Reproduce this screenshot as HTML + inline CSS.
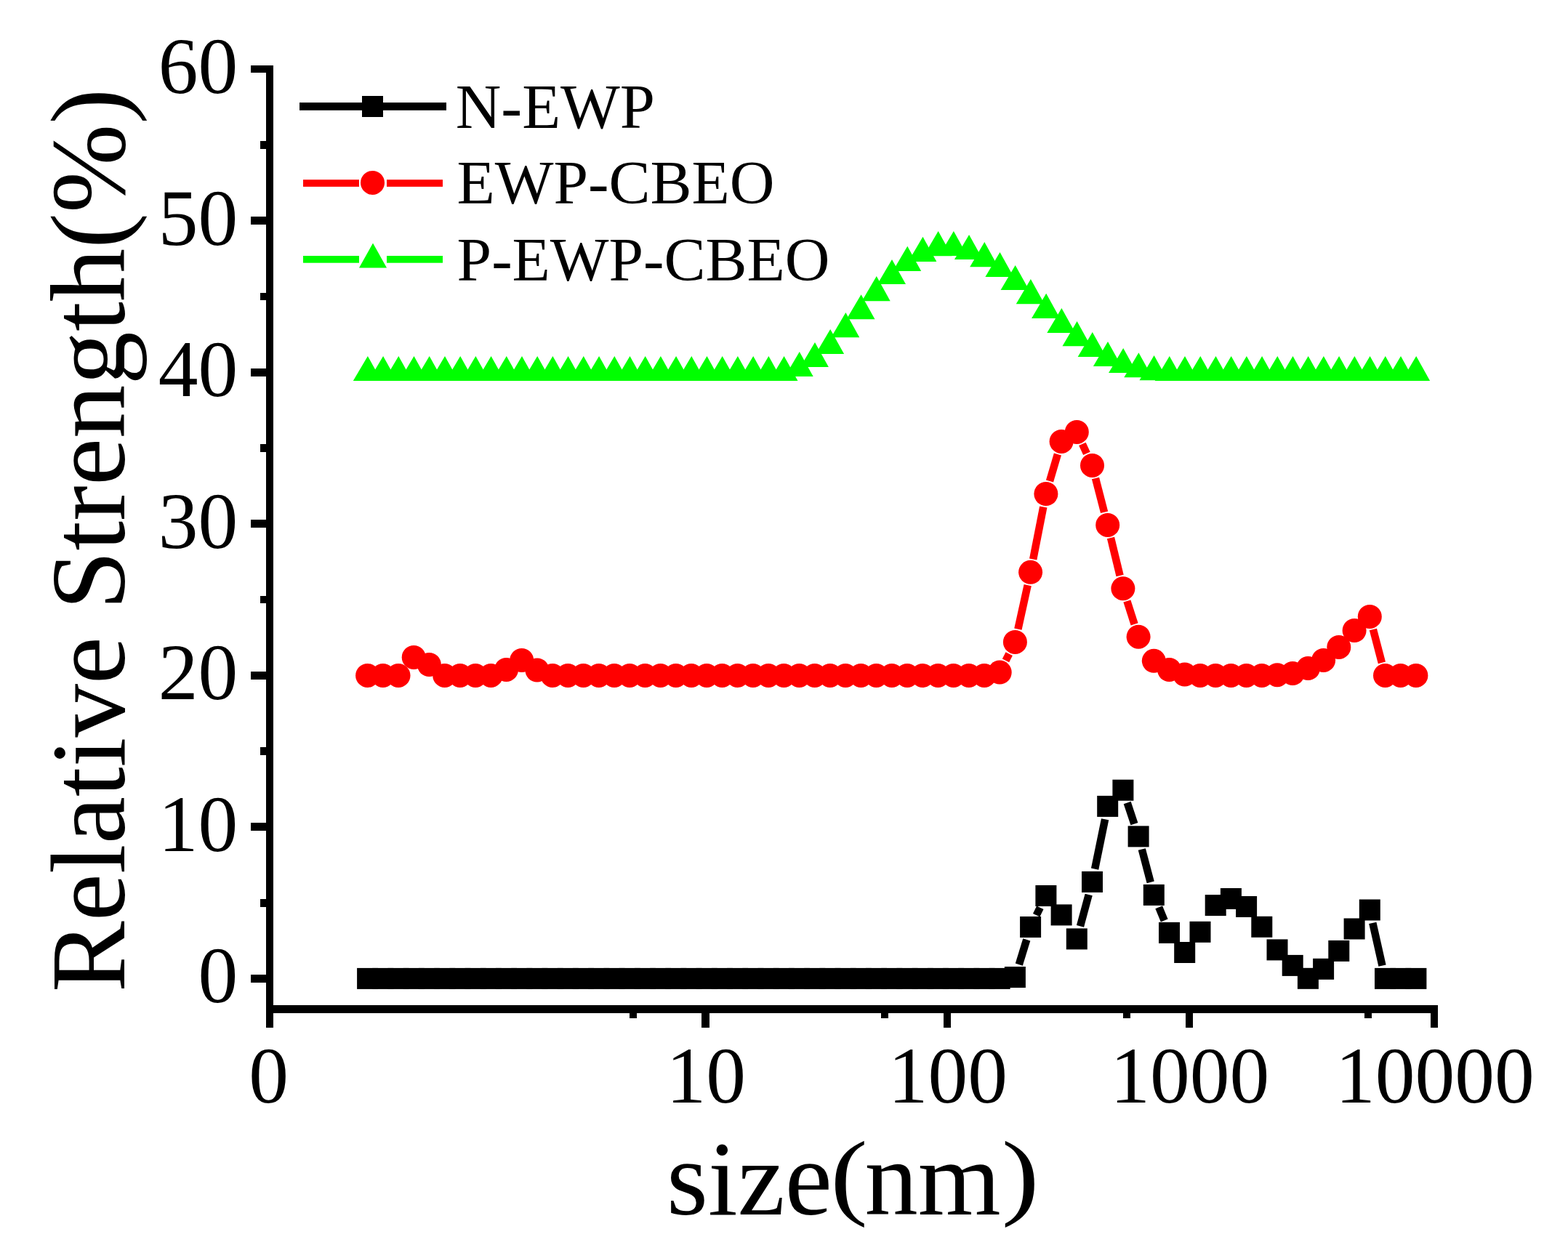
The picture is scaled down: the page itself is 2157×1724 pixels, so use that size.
<!DOCTYPE html>
<html><head><meta charset="utf-8"><title>size distribution</title>
<style>html,body{margin:0;padding:0;background:#fff;overflow:hidden;width:2157px;height:1724px;}svg{display:block;}</style></head>
<body><svg width="2157" height="1724" viewBox="0 0 2157 1724">
<rect width="2157" height="1724" fill="#fff"/>
<g fill="#000" shape-rendering="crispEdges"><rect x="366" y="90" width="10" height="1324"/><rect x="366" y="1383" width="1612" height="11"/><rect x="345" y="1341.0" width="21" height="10.8"/><rect x="345" y="1132.4" width="21" height="10.8"/><rect x="345" y="923.9" width="21" height="10.8"/><rect x="345" y="715.3" width="21" height="10.8"/><rect x="345" y="506.7" width="21" height="10.8"/><rect x="345" y="298.2" width="21" height="10.8"/><rect x="345" y="89.6" width="21" height="10.8"/><rect x="358" y="1236.7" width="8" height="10.8"/><rect x="358" y="1028.2" width="8" height="10.8"/><rect x="358" y="819.6" width="8" height="10.8"/><rect x="358" y="611.0" width="8" height="10.8"/><rect x="358" y="402.5" width="8" height="10.8"/><rect x="358" y="193.9" width="8" height="10.8"/><rect x="965.25" y="1394" width="10.5" height="20"/><rect x="1297.65" y="1394" width="10.5" height="20"/><rect x="1630.75" y="1394" width="10.5" height="20"/><rect x="1967.75" y="1394" width="10.5" height="20"/><rect x="865.5" y="1394" width="10" height="7"/><rect x="1212.0" y="1394" width="10" height="7"/><rect x="1545.0" y="1394" width="10" height="7"/><rect x="1877.0" y="1394" width="10" height="7"/></g>
<g stroke="#00ff00" stroke-width="10.5" stroke-linecap="butt"></g>
<g stroke="#ff0000" stroke-width="10.5" stroke-linecap="butt"><line x1="1383.5" y1="908.9" x2="1388.2" y2="899.6"/><line x1="1400.4" y1="865.6" x2="1413.7" y2="805.1"/><line x1="1421.2" y1="769.4" x2="1435.3" y2="697.4"/><line x1="1444.0" y1="662.0" x2="1454.9" y2="624.9"/><line x1="1488.9" y1="610.9" x2="1494.9" y2="623.9"/><line x1="1507.0" y1="658.0" x2="1519.1" y2="704.8"/><line x1="1528.0" y1="740.1" x2="1540.6" y2="792.0"/><line x1="1550.4" y1="827.0" x2="1560.6" y2="858.9"/><line x1="1888.9" y1="866.0" x2="1900.9" y2="911.8"/></g>
<g stroke="#000000" stroke-width="10.5" stroke-linecap="butt"><line x1="1401.8" y1="1327.1" x2="1412.3" y2="1292.9"/><line x1="1425.7" y1="1259.2" x2="1430.8" y2="1248.8"/><line x1="1486.0" y1="1274.3" x2="1497.7" y2="1231.0"/><line x1="1506.1" y1="1195.6" x2="1520.1" y2="1127.2"/><line x1="1550.7" y1="1104.5" x2="1560.4" y2="1133.6"/><line x1="1570.8" y1="1168.5" x2="1582.7" y2="1213.8"/><line x1="1594.2" y1="1248.3" x2="1601.7" y2="1266.5"/><line x1="1888.3" y1="1269.8" x2="1901.5" y2="1328.6"/></g>
<g fill="#000"><rect x="491.1" y="1331.9" width="29" height="29"/><rect x="512.3" y="1331.9" width="29" height="29"/><rect x="533.5" y="1331.9" width="29" height="29"/><rect x="554.7" y="1331.9" width="29" height="29"/><rect x="575.9" y="1331.9" width="29" height="29"/><rect x="597.2" y="1331.9" width="29" height="29"/><rect x="618.4" y="1331.9" width="29" height="29"/><rect x="639.6" y="1331.9" width="29" height="29"/><rect x="660.8" y="1331.9" width="29" height="29"/><rect x="682.0" y="1331.9" width="29" height="29"/><rect x="703.2" y="1331.9" width="29" height="29"/><rect x="724.4" y="1331.9" width="29" height="29"/><rect x="745.6" y="1331.9" width="29" height="29"/><rect x="766.8" y="1331.9" width="29" height="29"/><rect x="788.0" y="1331.9" width="29" height="29"/><rect x="809.3" y="1331.9" width="29" height="29"/><rect x="830.5" y="1331.9" width="29" height="29"/><rect x="851.7" y="1331.9" width="29" height="29"/><rect x="872.9" y="1331.9" width="29" height="29"/><rect x="894.1" y="1331.9" width="29" height="29"/><rect x="915.3" y="1331.9" width="29" height="29"/><rect x="936.5" y="1331.9" width="29" height="29"/><rect x="957.7" y="1331.9" width="29" height="29"/><rect x="978.9" y="1331.9" width="29" height="29"/><rect x="1000.1" y="1331.9" width="29" height="29"/><rect x="1021.4" y="1331.9" width="29" height="29"/><rect x="1042.6" y="1331.9" width="29" height="29"/><rect x="1063.8" y="1331.9" width="29" height="29"/><rect x="1085.0" y="1331.9" width="29" height="29"/><rect x="1106.2" y="1331.9" width="29" height="29"/><rect x="1127.4" y="1331.9" width="29" height="29"/><rect x="1148.6" y="1331.9" width="29" height="29"/><rect x="1169.8" y="1331.9" width="29" height="29"/><rect x="1191.0" y="1331.9" width="29" height="29"/><rect x="1212.2" y="1331.9" width="29" height="29"/><rect x="1233.5" y="1331.9" width="29" height="29"/><rect x="1254.7" y="1331.9" width="29" height="29"/><rect x="1275.9" y="1331.9" width="29" height="29"/><rect x="1297.1" y="1331.9" width="29" height="29"/><rect x="1318.3" y="1331.9" width="29" height="29"/><rect x="1339.5" y="1331.9" width="29" height="29"/><rect x="1360.7" y="1331.9" width="29" height="29"/><rect x="1381.9" y="1330.0" width="29" height="29"/><rect x="1403.1" y="1261.0" width="29" height="29"/><rect x="1424.4" y="1218.0" width="29" height="29"/><rect x="1445.6" y="1244.4" width="29" height="29"/><rect x="1466.8" y="1277.4" width="29" height="29"/><rect x="1488.0" y="1198.9" width="29" height="29"/><rect x="1509.2" y="1094.9" width="29" height="29"/><rect x="1530.4" y="1072.7" width="29" height="29"/><rect x="1551.6" y="1136.4" width="29" height="29"/><rect x="1572.8" y="1216.9" width="29" height="29"/><rect x="1594.0" y="1268.9" width="29" height="29"/><rect x="1615.2" y="1296.0" width="29" height="29"/><rect x="1636.5" y="1267.8" width="29" height="29"/><rect x="1657.7" y="1231.1" width="29" height="29"/><rect x="1678.9" y="1222.0" width="29" height="29"/><rect x="1700.1" y="1233.0" width="29" height="29"/><rect x="1721.3" y="1260.8" width="29" height="29"/><rect x="1742.5" y="1292.4" width="29" height="29"/><rect x="1763.7" y="1313.9" width="29" height="29"/><rect x="1784.9" y="1331.8" width="29" height="29"/><rect x="1806.1" y="1318.8" width="29" height="29"/><rect x="1827.3" y="1293.9" width="29" height="29"/><rect x="1848.6" y="1263.5" width="29" height="29"/><rect x="1869.8" y="1237.5" width="29" height="29"/><rect x="1891.0" y="1331.9" width="29" height="29"/><rect x="1912.2" y="1331.9" width="29" height="29"/><rect x="1933.4" y="1331.9" width="29" height="29"/></g>
<g fill="#ff0000"><circle cx="505.6" cy="929.4" r="16.5"/><circle cx="526.8" cy="929.4" r="16.5"/><circle cx="548.0" cy="929.4" r="16.5"/><circle cx="569.2" cy="904.4" r="16.5"/><circle cx="590.4" cy="914.5" r="16.5"/><circle cx="611.7" cy="929.4" r="16.5"/><circle cx="632.9" cy="929.4" r="16.5"/><circle cx="654.1" cy="929.4" r="16.5"/><circle cx="675.3" cy="929.4" r="16.5"/><circle cx="696.5" cy="921.4" r="16.5"/><circle cx="717.7" cy="908.4" r="16.5"/><circle cx="738.9" cy="922.0" r="16.5"/><circle cx="760.1" cy="929.4" r="16.5"/><circle cx="781.3" cy="929.4" r="16.5"/><circle cx="802.5" cy="929.4" r="16.5"/><circle cx="823.8" cy="929.4" r="16.5"/><circle cx="845.0" cy="929.4" r="16.5"/><circle cx="866.2" cy="929.4" r="16.5"/><circle cx="887.4" cy="929.4" r="16.5"/><circle cx="908.6" cy="929.4" r="16.5"/><circle cx="929.8" cy="929.4" r="16.5"/><circle cx="951.0" cy="929.4" r="16.5"/><circle cx="972.2" cy="929.4" r="16.5"/><circle cx="993.4" cy="929.4" r="16.5"/><circle cx="1014.6" cy="929.4" r="16.5"/><circle cx="1035.9" cy="929.4" r="16.5"/><circle cx="1057.1" cy="929.4" r="16.5"/><circle cx="1078.3" cy="929.4" r="16.5"/><circle cx="1099.5" cy="929.4" r="16.5"/><circle cx="1120.7" cy="929.4" r="16.5"/><circle cx="1141.9" cy="929.4" r="16.5"/><circle cx="1163.1" cy="929.4" r="16.5"/><circle cx="1184.3" cy="929.4" r="16.5"/><circle cx="1205.5" cy="929.4" r="16.5"/><circle cx="1226.8" cy="929.4" r="16.5"/><circle cx="1248.0" cy="929.4" r="16.5"/><circle cx="1269.2" cy="929.4" r="16.5"/><circle cx="1290.4" cy="929.4" r="16.5"/><circle cx="1311.6" cy="929.4" r="16.5"/><circle cx="1332.8" cy="929.4" r="16.5"/><circle cx="1354.0" cy="929.4" r="16.5"/><circle cx="1375.2" cy="925.1" r="16.5"/><circle cx="1396.4" cy="883.4" r="16.5"/><circle cx="1417.6" cy="787.3" r="16.5"/><circle cx="1438.9" cy="679.5" r="16.5"/><circle cx="1460.1" cy="607.4" r="16.5"/><circle cx="1481.3" cy="594.4" r="16.5"/><circle cx="1502.5" cy="640.4" r="16.5"/><circle cx="1523.7" cy="722.4" r="16.5"/><circle cx="1544.9" cy="809.7" r="16.5"/><circle cx="1566.1" cy="876.2" r="16.5"/><circle cx="1587.3" cy="909.3" r="16.5"/><circle cx="1608.5" cy="921.5" r="16.5"/><circle cx="1629.7" cy="928.0" r="16.5"/><circle cx="1651.0" cy="929.4" r="16.5"/><circle cx="1672.2" cy="929.4" r="16.5"/><circle cx="1693.4" cy="929.4" r="16.5"/><circle cx="1714.6" cy="929.4" r="16.5"/><circle cx="1735.8" cy="929.4" r="16.5"/><circle cx="1757.0" cy="928.7" r="16.5"/><circle cx="1778.2" cy="926.5" r="16.5"/><circle cx="1799.4" cy="919.6" r="16.5"/><circle cx="1820.6" cy="908.4" r="16.5"/><circle cx="1841.8" cy="890.4" r="16.5"/><circle cx="1863.1" cy="867.5" r="16.5"/><circle cx="1884.3" cy="848.4" r="16.5"/><circle cx="1905.5" cy="929.4" r="16.5"/><circle cx="1926.7" cy="929.4" r="16.5"/><circle cx="1947.9" cy="929.4" r="16.5"/></g>
<g fill="#00ff00"><path d="M505.9 489.9L524.8 524.0L485.8 524.0Z"/><path d="M527.1 489.9L546.0 524.0L507.0 524.0Z"/><path d="M548.3 489.9L567.2 524.0L528.2 524.0Z"/><path d="M569.5 489.9L588.4 524.0L549.4 524.0Z"/><path d="M590.7 489.9L609.6 524.0L570.6 524.0Z"/><path d="M612.0 489.9L630.9 524.0L591.9 524.0Z"/><path d="M633.2 489.9L652.1 524.0L613.1 524.0Z"/><path d="M654.4 489.9L673.3 524.0L634.3 524.0Z"/><path d="M675.6 489.9L694.5 524.0L655.5 524.0Z"/><path d="M696.8 489.9L715.7 524.0L676.7 524.0Z"/><path d="M718.0 489.9L736.9 524.0L697.9 524.0Z"/><path d="M739.2 489.9L758.1 524.0L719.1 524.0Z"/><path d="M760.4 489.9L779.3 524.0L740.3 524.0Z"/><path d="M781.6 489.9L800.5 524.0L761.5 524.0Z"/><path d="M802.8 489.9L821.7 524.0L782.7 524.0Z"/><path d="M824.1 489.9L843.0 524.0L804.0 524.0Z"/><path d="M845.3 489.9L864.2 524.0L825.2 524.0Z"/><path d="M866.5 489.9L885.4 524.0L846.4 524.0Z"/><path d="M887.7 489.9L906.6 524.0L867.6 524.0Z"/><path d="M908.9 489.9L927.8 524.0L888.8 524.0Z"/><path d="M930.1 489.9L949.0 524.0L910.0 524.0Z"/><path d="M951.3 489.9L970.2 524.0L931.2 524.0Z"/><path d="M972.5 489.9L991.4 524.0L952.4 524.0Z"/><path d="M993.7 489.9L1012.6 524.0L973.6 524.0Z"/><path d="M1014.9 489.9L1033.8 524.0L994.8 524.0Z"/><path d="M1036.2 489.9L1055.1 524.0L1016.1 524.0Z"/><path d="M1057.4 489.9L1076.3 524.0L1037.3 524.0Z"/><path d="M1078.6 489.9L1097.5 524.0L1058.5 524.0Z"/><path d="M1099.8 484.0L1118.7 518.1L1079.7 518.1Z"/><path d="M1121.0 471.0L1139.9 505.1L1100.9 505.1Z"/><path d="M1142.2 452.9L1161.1 487.0L1122.1 487.0Z"/><path d="M1163.4 430.1L1182.3 464.2L1143.3 464.2Z"/><path d="M1184.6 405.2L1203.5 439.3L1164.5 439.3Z"/><path d="M1205.8 380.1L1224.7 414.2L1185.7 414.2Z"/><path d="M1227.0 357.0L1246.0 391.1L1207.0 391.1Z"/><path d="M1248.3 338.8L1267.2 372.9L1228.2 372.9Z"/><path d="M1269.5 325.8L1288.4 359.9L1249.4 359.9Z"/><path d="M1290.7 318.1L1309.6 352.2L1270.6 352.2Z"/><path d="M1311.9 318.0L1330.8 352.1L1291.8 352.1Z"/><path d="M1333.1 323.0L1352.0 357.1L1313.0 357.1Z"/><path d="M1354.3 333.1L1373.2 367.2L1334.2 367.2Z"/><path d="M1375.5 347.0L1394.4 381.1L1355.4 381.1Z"/><path d="M1396.7 365.0L1415.6 399.1L1376.6 399.1Z"/><path d="M1417.9 384.1L1436.8 418.2L1397.8 418.2Z"/><path d="M1439.2 403.8L1458.1 437.9L1419.1 437.9Z"/><path d="M1460.4 423.9L1479.3 458.0L1440.3 458.0Z"/><path d="M1481.6 442.1L1500.5 476.2L1461.5 476.2Z"/><path d="M1502.8 457.0L1521.7 491.1L1482.7 491.1Z"/><path d="M1524.0 469.9L1542.9 504.0L1503.9 504.0Z"/><path d="M1545.2 479.0L1564.1 513.1L1525.1 513.1Z"/><path d="M1566.4 485.2L1585.3 519.3L1546.3 519.3Z"/><path d="M1587.6 489.1L1606.5 523.2L1567.5 523.2Z"/><path d="M1608.8 489.9L1627.7 524.0L1588.7 524.0Z"/><path d="M1630.0 489.9L1648.9 524.0L1609.9 524.0Z"/><path d="M1651.3 489.9L1670.2 524.0L1631.2 524.0Z"/><path d="M1672.5 489.9L1691.4 524.0L1652.4 524.0Z"/><path d="M1693.7 489.9L1712.6 524.0L1673.6 524.0Z"/><path d="M1714.9 489.9L1733.8 524.0L1694.8 524.0Z"/><path d="M1736.1 489.9L1755.0 524.0L1716.0 524.0Z"/><path d="M1757.3 489.9L1776.2 524.0L1737.2 524.0Z"/><path d="M1778.5 489.9L1797.4 524.0L1758.4 524.0Z"/><path d="M1799.7 489.9L1818.6 524.0L1779.6 524.0Z"/><path d="M1820.9 489.9L1839.8 524.0L1800.8 524.0Z"/><path d="M1842.1 489.9L1861.0 524.0L1822.0 524.0Z"/><path d="M1863.4 489.9L1882.3 524.0L1843.3 524.0Z"/><path d="M1884.6 489.9L1903.5 524.0L1864.5 524.0Z"/><path d="M1905.8 489.9L1924.7 524.0L1885.7 524.0Z"/><path d="M1927.0 489.9L1945.9 524.0L1906.9 524.0Z"/><path d="M1948.2 489.9L1967.1 524.0L1928.1 524.0Z"/></g>
<rect x="412" y="141.1" width="202" height="10.7" fill="#000"/><rect x="498" y="132" width="29" height="29" fill="#000"/><rect x="417" y="247.2" width="77" height="9.7" fill="#ff0000"/><rect x="532" y="247.2" width="77" height="9.7" fill="#ff0000"/><circle cx="512.5" cy="251.4" r="16.5" fill="#ff0000"/><rect x="417" y="352" width="77" height="9.7" fill="#00ff00"/><rect x="532" y="352" width="77" height="9.7" fill="#00ff00"/><path d="M513 334.6L532 368.5L494 368.5Z" fill="#00ff00"/>
<g font-family="Liberation Serif, Times New Roman, serif" fill="#000"><text x="327.3" y="1379.4" text-anchor="end" font-size="109.5">0</text><text x="327.3" y="1170.8" text-anchor="end" font-size="109.5">10</text><text x="327.3" y="962.3" text-anchor="end" font-size="109.5">20</text><text x="327.3" y="753.7" text-anchor="end" font-size="109.5">30</text><text x="327.3" y="545.1" text-anchor="end" font-size="109.5">40</text><text x="327.3" y="336.6" text-anchor="end" font-size="109.5">50</text><text x="327.3" y="128.0" text-anchor="end" font-size="109.5">60</text><text x="369.5" y="1516.5" text-anchor="middle" font-size="109.5">0</text><text x="971.3" y="1516.5" text-anchor="middle" font-size="109.5">10</text><text x="1303.8" y="1516.5" text-anchor="middle" font-size="109.5">100</text><text x="1636.7" y="1516.5" text-anchor="middle" font-size="109.5">1000</text><text x="1973.9" y="1516.5" text-anchor="middle" font-size="109.5">10000</text><text x="917.0" y="1670.6" font-size="146.5">size</text><text transform="matrix(1.054 0 0 0.895 1142.32 1660.98)" x="0" y="0" font-size="146.5">(</text><text x="1189.5" y="1670.6" font-size="146.5">nm</text><text transform="matrix(1.063 0 0 0.895 1377.68 1660.98)" x="0" y="0" font-size="146.5">)</text><text transform="translate(171.4 1365.2) rotate(-90)" x="0" y="0" font-size="146.8">Relative Strength(%)</text><text x="626.8" y="175.5" font-size="86.6">N-EWP</text><text x="628.6" y="280.2" font-size="85.5">EWP-CBEO</text><text x="628.6" y="385.9" font-size="85.5">P-EWP-CBEO</text></g>
</svg></body></html>
